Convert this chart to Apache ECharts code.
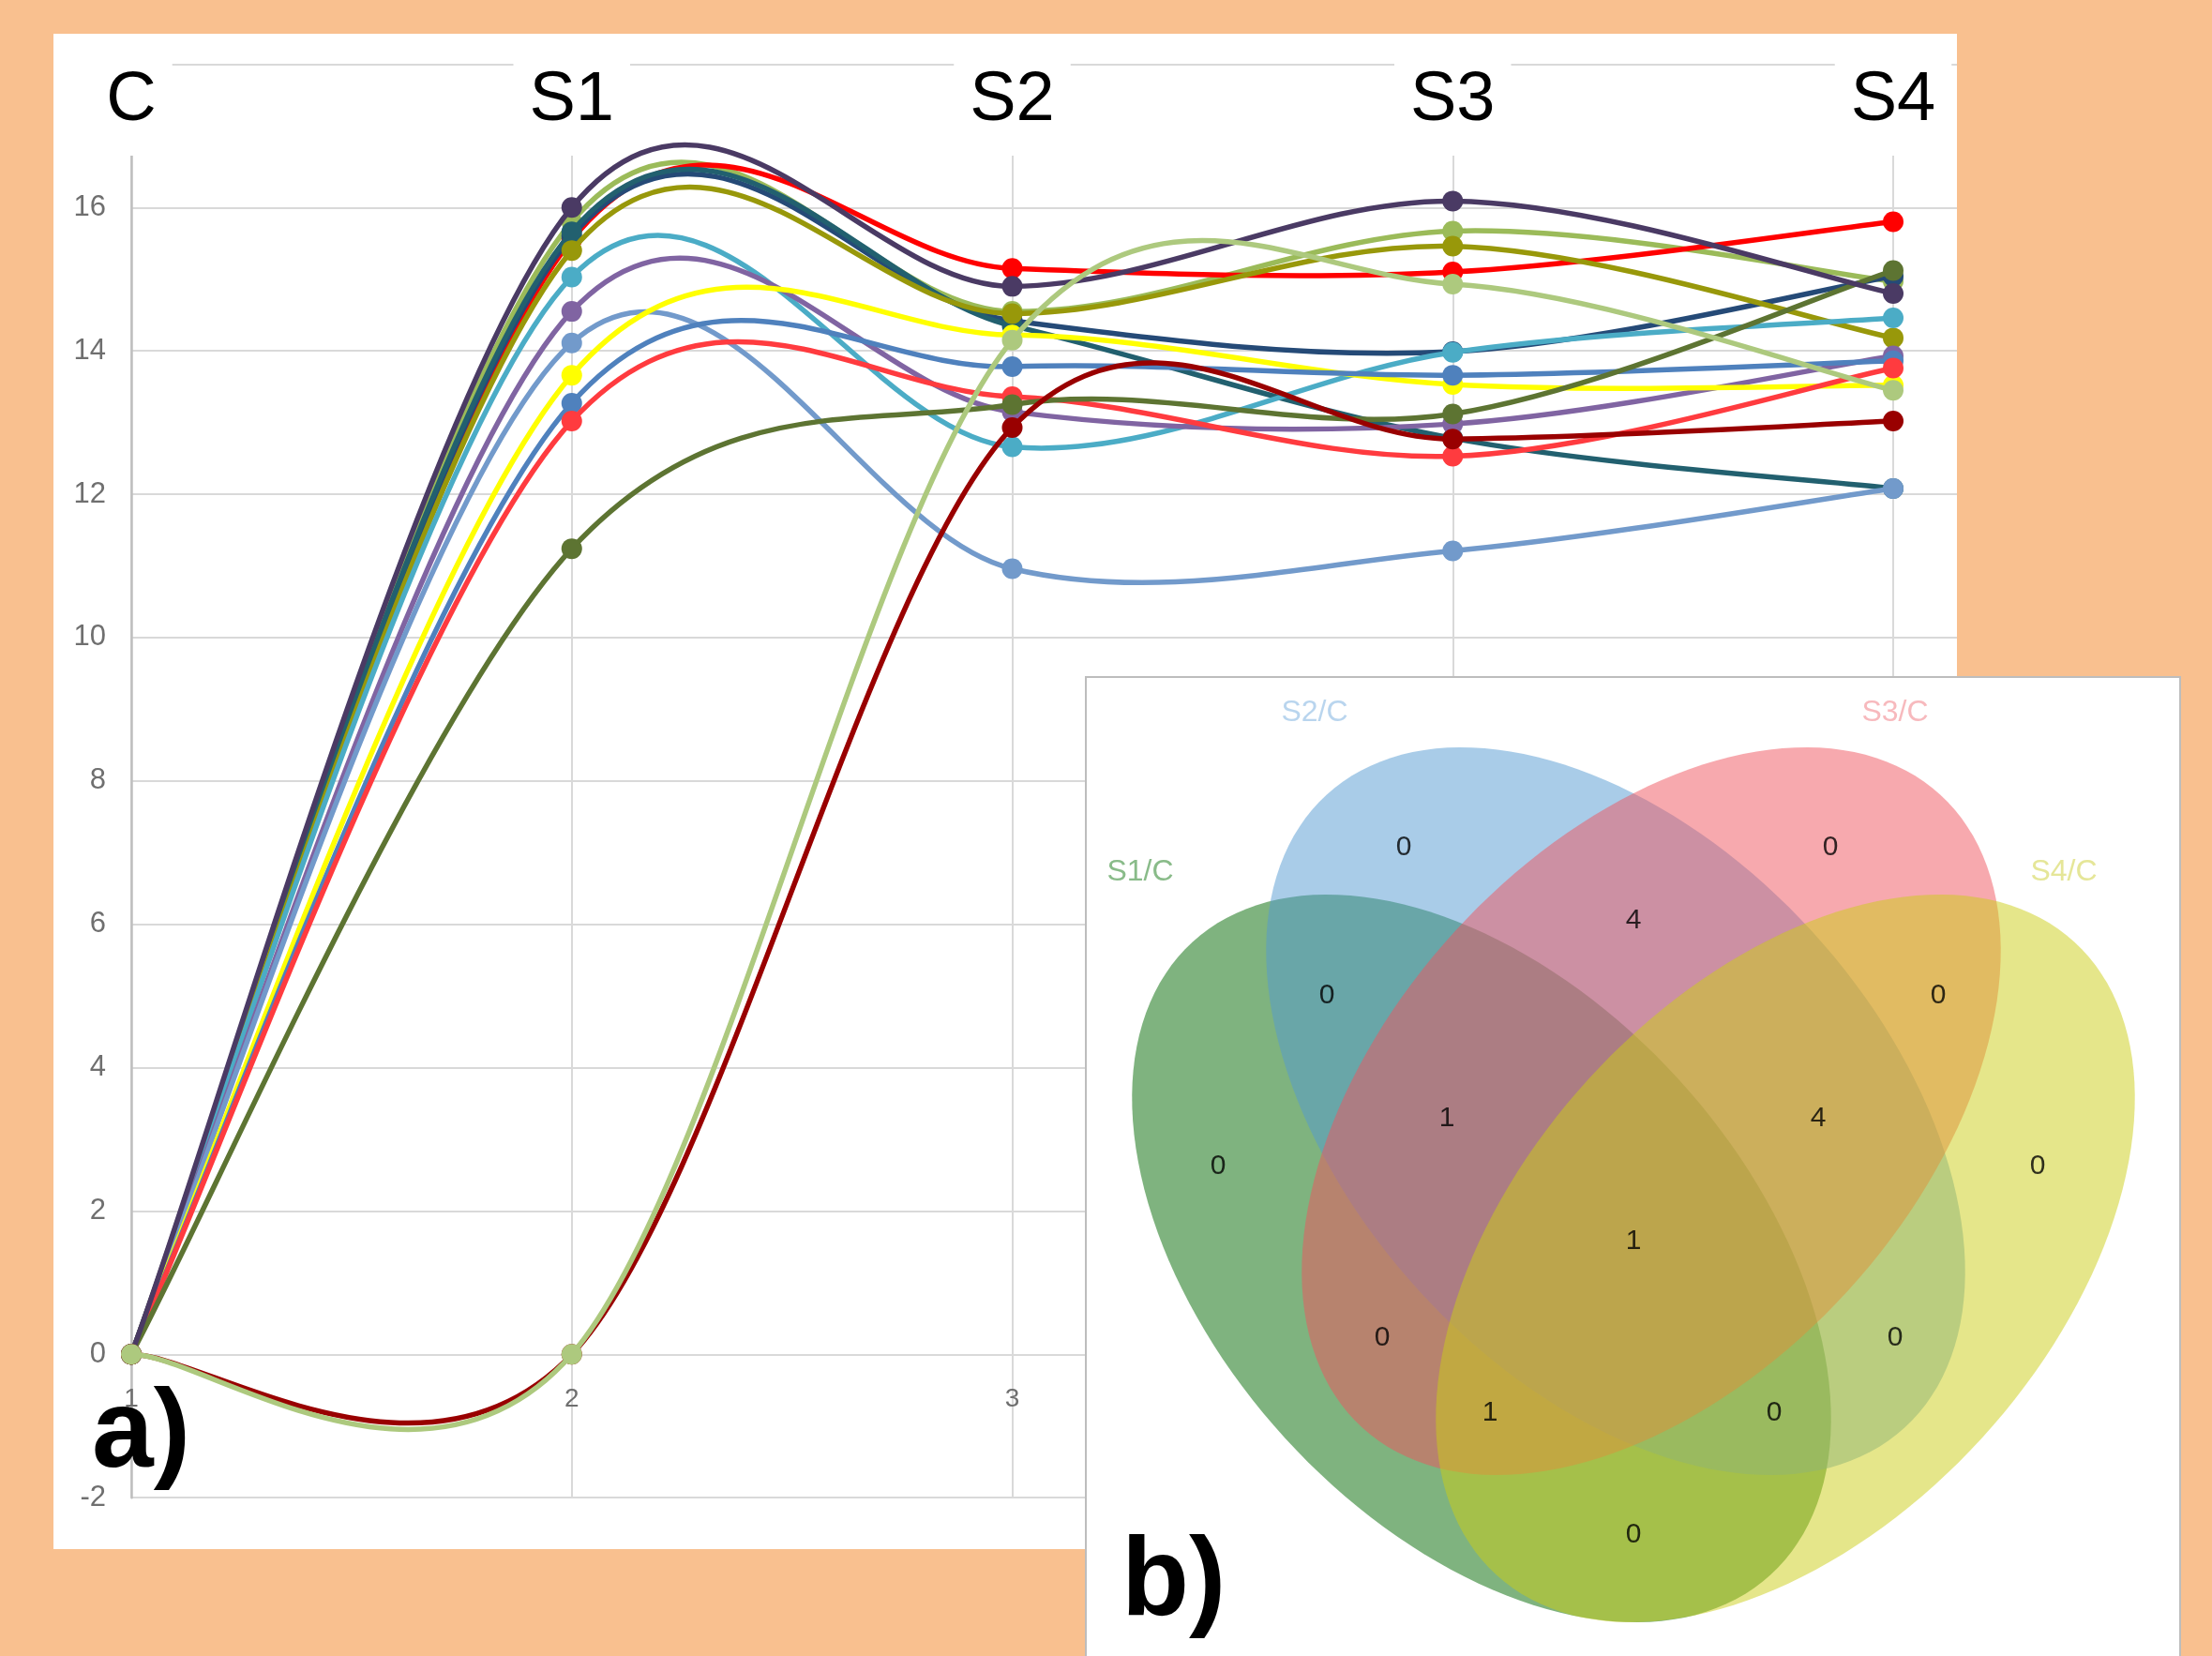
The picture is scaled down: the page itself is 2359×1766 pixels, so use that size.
<!DOCTYPE html>
<html>
<head>
<meta charset="utf-8">
<script src="https://cdn.jsdelivr.net/npm/echarts@6/dist/echarts.min.js"></script>
<style>
html, body { margin: 0; padding: 0; background: #F9C08F; }
#chart { width: 2359px; height: 1766px; }
</style>
</head>
<body>
<div id="chart"></div>
<script>
// stages on the x axis
var stages = ['C', 'S1', 'S2', 'S3', 'S4'];
var stageX = [1, 2, 3, 4, 5];

// one array per curve, values at C, S1, S2, S3, S4
var lightGreen = [0, 15.8, 14.55, 15.67, 14.97];
var red = [0, 15.55, 15.15, 15.1, 15.8];
var navy = [0, 15.6, 14.42, 13.99, 15.04];
var teal = [0, 15.66, 14.35, 12.78, 12.08];
var olive = [0, 15.4, 14.52, 15.46, 14.18];
var cyan = [0, 15.03, 12.66, 13.98, 14.46];
var purple = [0, 14.55, 13.15, 12.98, 13.93];
var lightBlue = [0, 14.11, 10.96, 11.21, 12.08];
var yellow = [0, 13.66, 14.22, 13.53, 13.52];
var blue = [0, 13.27, 13.78, 13.66, 13.86];
var lightRed = [0, 13.02, 13.36, 12.53, 13.76];
var darkOliveGreen = [0, 11.24, 13.25, 13.12, 15.12];
var darkPurple = [0, 16.0, 14.9, 16.09, 14.8];
var darkRed = [0, 0, 12.93, 12.77, 13.02];
var khaki = [0, 0, 14.15, 14.93, 13.45];

// venn: set names, region codes (A=S1, B=S2, C=S3, D=S4) and counts
var vennSets = ['S1/C', 'S2/C', 'S3/C', 'S4/C'];
var vennRegions = ['B', 'C', 'A', 'D', 'BC', 'AB', 'CD', 'ABC', 'BCD', 'ABCD', 'AC', 'BD', 'ACD', 'ABD', 'AD'];
var vennCounts = [0, 0, 0, 0, 4, 0, 0, 1, 4, 1, 0, 0, 1, 0, 0];

// venn layout (local pixel space of the b) panel)
var vennShapes = [[422, 620, 457, 284, 47.6], [565, 463, 457, 284, 47.6], [603, 463, 457, 284, -47.6], [746, 620, 457, 284, -47.6]];
var vennFill = ['rgba(0,103,0,0.5)', 'rgba(83,153,209,0.5)', 'rgba(239,83,93,0.5)', 'rgba(203,205,21,0.5)'];
var vennLabelColor = ['#6CAA6B', '#A8CBEA', '#F5A7AC', '#DEE07E'];
var vennLabelPos = [[58, 208], [244, 38], [863, 38], [1043, 208]];
var vennCountPos = [[339, 182], [794, 182], [141, 522], [1015, 522], [584, 260], [257, 340], [909, 340],
    [385, 471], [781, 471], [584, 602], [316, 705], [863, 705], [431, 785], [734, 785], [584, 915]];

var lines = [
    {name: 'lightGreen', color: '#9BBB59', values: lightGreen},
    {name: 'red', color: '#FF0000', values: red},
    {name: 'navy', color: '#254A77', values: navy},
    {name: 'teal', color: '#22606F', values: teal},
    {name: 'olive', color: '#98980A', values: olive},
    {name: 'cyan', color: '#4BACC6', values: cyan},
    {name: 'purple', color: '#8064A2', values: purple},
    {name: 'lightBlue', color: '#729ACB', values: lightBlue},
    {name: 'yellow', color: '#FFFF00', values: yellow},
    {name: 'blue', color: '#4F81BD', values: blue},
    {name: 'lightRed', color: '#FF3B3F', values: lightRed},
    {name: 'darkOliveGreen', color: '#5D7432', values: darkOliveGreen},
    {name: 'darkPurple', color: '#4A3A64', values: darkPurple},
    {name: 'darkRed', color: '#990000', values: darkRed},
    {name: 'khaki', color: '#ADC97E', values: khaki}
];

var xMax = 1 + 1947 / 469.75;
var gridColor = '#D9D9D9';

// excel style smoothed line: catmull-rom segments drawn through the axes
function smoothLine(line) {
    var pts = stageX.map(function (x, i) { return [x, line.values[i]]; });
    return {
        type: 'custom',
        name: line.name,
        xAxisIndex: 0,
        yAxisIndex: 0,
        z: 2,
        silent: true,
        data: pts,
        renderItem: function (params, api) {
            var i = params.dataIndex;
            var p = pts[i];
            var children = [];
            if (i < pts.length - 1) {
                var prev = pts[i - 1] || p;
                var next = pts[i + 1];
                var next2 = pts[i + 2] || next;
                var c1 = [p[0] + (next[0] - prev[0]) / 6, p[1] + (next[1] - prev[1]) / 6];
                var c2 = [next[0] - (next2[0] - p[0]) / 6, next[1] - (next2[1] - p[1]) / 6];
                var a = api.coord(p), b = api.coord(next), q1 = api.coord(c1), q2 = api.coord(c2);
                children.push({
                    type: 'bezierCurve',
                    shape: {x1: a[0], y1: a[1], x2: b[0], y2: b[1], cpx1: q1[0], cpy1: q1[1], cpx2: q2[0], cpy2: q2[1]},
                    style: {stroke: line.color, lineWidth: 5.5, fill: 'none'}
                });
            }
            var c = api.coord(p);
            children.push({type: 'circle', shape: {cx: c[0], cy: c[1], r: 11}, style: {fill: line.color}});
            return {type: 'group', children: children};
        }
    };
}

var chart = echarts.init(document.getElementById('chart'));

var series = lines.map(smoothLine);

series.push({
    type: 'custom',
    xAxisIndex: 2,
    yAxisIndex: 1,
    z: 20,
    silent: true,
    data: vennShapes,
    renderItem: function (params, api) {
        var cx = api.value(0), cy = api.value(1), a = api.value(2), b = api.value(3);
        var th = api.value(4) * Math.PI / 180;
        var pts = [];
        for (var k = 0; k < 160; k++) {
            var t = k / 160 * 2 * Math.PI;
            pts.push(api.coord([
                cx + a * Math.cos(t) * Math.cos(th) - b * Math.sin(t) * Math.sin(th),
                cy + a * Math.cos(t) * Math.sin(th) + b * Math.sin(t) * Math.cos(th)
            ]));
        }
        return {type: 'polygon', z2: params.dataIndex, shape: {points: pts}, style: {fill: vennFill[params.dataIndex]}};
    }
});

series.push({
    type: 'scatter',
    xAxisIndex: 2,
    yAxisIndex: 1,
    z: 30,
    silent: true,
    symbolSize: 1,
    itemStyle: {color: 'rgba(0,0,0,0)'},
    data: vennSets.map(function (s, i) {
        return {value: vennLabelPos[i], name: s, label: {color: vennLabelColor[i]}};
    }),
    label: {show: true, position: 'inside', formatter: '{b}', fontSize: 32, fontFamily: 'Liberation Sans'}
});

series.push({
    type: 'scatter',
    xAxisIndex: 2,
    yAxisIndex: 1,
    z: 30,
    silent: true,
    symbolSize: 1,
    itemStyle: {color: 'rgba(0,0,0,0)'},
    data: vennRegions.map(function (r, i) {
        return {value: vennCountPos[i], name: r};
    }),
    label: {
        show: true, position: 'inside', fontSize: 30, fontFamily: 'Liberation Sans', color: '#000',
        formatter: function (p) { return String(vennCounts[p.dataIndex]); }
    }
});

var option = {
    backgroundColor: '#F9C08F',
    animation: false,
    grid: [
        {left: 140, top: 68.4, width: 1947, height: 1528.8, outerBoundsMode: 'none'},
        {left: 1158, top: 722, width: 1167, height: 1044, outerBoundsMode: 'none'}
    ],
    xAxis: [
        {
            // category axis crosses the value axis at 0 (2 units above the bottom)
            type: 'value', gridIndex: 0, min: 1, max: xMax, interval: 1, offset: -152.9,
            axisLine: {onZero: false, lineStyle: {color: gridColor, width: 2}},
            axisTick: {show: false},
            axisLabel: {
                showMaxLabel: false, margin: 34, fontSize: 28, fontFamily: 'Liberation Sans', color: '#6F6F6F',
                formatter: function (v) { return Number.isInteger(v) ? String(v) : ''; }
            },
            splitLine: {show: true, lineStyle: {color: [gridColor, gridColor, gridColor, gridColor, gridColor, 'rgba(0,0,0,0)'], width: 2}}
        },
        {
            type: 'value', gridIndex: 0, position: 'top', min: 1, max: xMax, interval: 1, z: 3,
            axisLine: {show: false},
            axisTick: {show: false},
            splitLine: {show: false},
            axisLabel: {
                inside: true, margin: -2, showMaxLabel: false,
                fontSize: 74, lineHeight: 74, fontFamily: 'Liberation Sans', color: '#000',
                backgroundColor: '#fff', padding: [4, 17, 4, 17],
                formatter: function (v) { var i = stageX.indexOf(v); return i < 0 ? '' : stages[i]; }
            }
        },
        {type: 'value', gridIndex: 1, min: 0, max: 1167, show: false}
    ],
    yAxis: [
        {
            type: 'value', gridIndex: 0, min: -2, max: 18, interval: 2,
            axisLine: {show: true, lineStyle: {color: '#BFBFBF', width: 2.5}},
            axisTick: {show: false},
            axisLabel: {showMaxLabel: false, margin: 27, fontSize: 31, fontFamily: 'Liberation Sans', color: '#6F6F6F'},
            splitLine: {show: true, lineStyle: {color: gridColor, width: 2}}
        },
        {type: 'value', gridIndex: 1, min: 0, max: 1044, inverse: true, show: false}
    ],
    graphic: [
        {type: 'rect', z: -1, silent: true, shape: {x: 57, y: 36, width: 2030, height: 1616}, style: {fill: '#fff'}},
        {type: 'rect', z: 1, silent: true, shape: {x: 57, y: 71, width: 2030, height: 95}, style: {fill: '#fff'}},
        {type: 'text', z: 40, silent: true, x: 98, y: 1531,
            style: {text: 'a)', fontSize: 118, fontWeight: 'bold', fontFamily: 'Liberation Sans', fill: '#000', textAlign: 'left', textVerticalAlign: 'middle'}},
        {type: 'rect', z: 10, silent: true, shape: {x: 1158, y: 722, width: 1167, height: 1060}, style: {fill: '#fff', stroke: '#BDBDBD', lineWidth: 2}},
        {type: 'text', z: 40, silent: true, x: 1196, y: 1689,
            style: {text: 'b)', fontSize: 118, fontWeight: 'bold', fontFamily: 'Liberation Sans', fill: '#000', textAlign: 'left', textVerticalAlign: 'middle'}}
    ],
    series: series
};

chart.setOption(option);
</script>
</body>
</html>
